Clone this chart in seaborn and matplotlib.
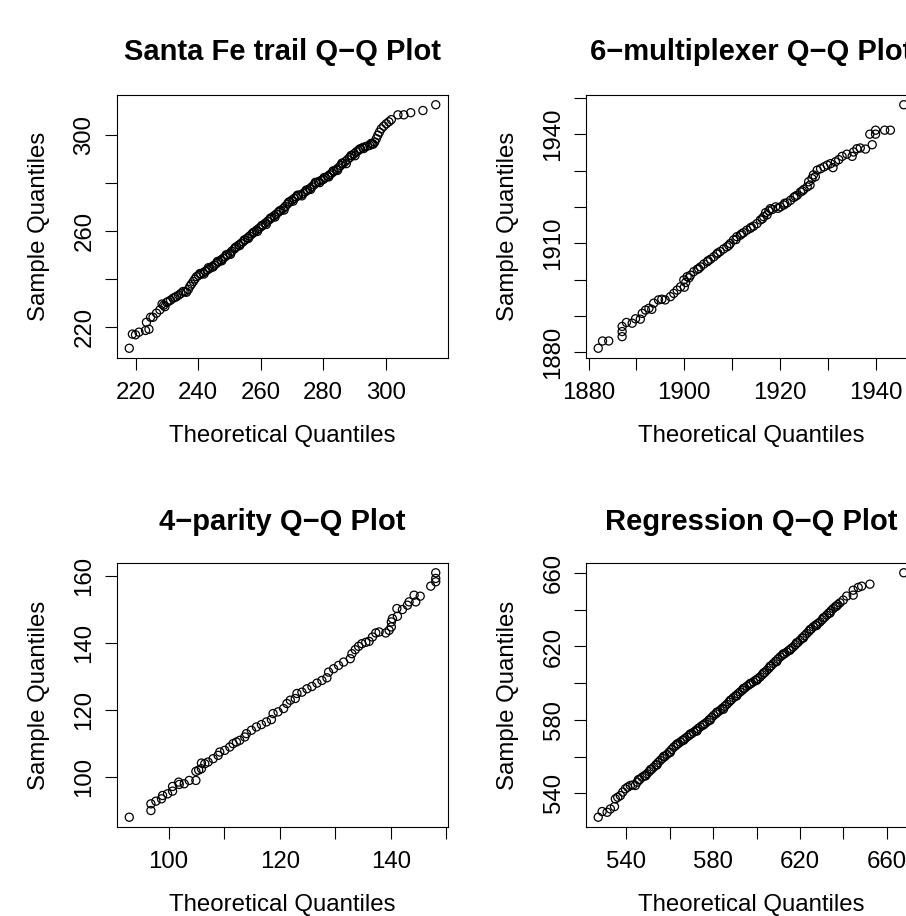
import pandas as pd
import matplotlib
matplotlib.use("Agg")
import matplotlib.pyplot as plt
import seaborn as sns

# Santa Fe trail (theoretical, sample)
santa_fe_theoretical = [
    218.0, 219.0, 220.0, 221.1, 223.2, 224.3, 223.5, 224.8, 225.6, 226.7, 227.8,
    228.5, 229.0, 229.4, 230.0, 230.4, 231.2, 232.0, 232.6, 233.1, 233.8, 234.5,
    235.2, 235.8, 236.3, 236.9, 237.4, 237.9, 238.5, 239.0, 239.5, 240.2, 240.9,
    241.6, 242.3, 243.0, 243.7, 244.4, 245.2, 245.9, 246.6, 247.3, 248.0, 248.7,
    249.4, 250.1, 250.8, 251.6, 252.3, 253.0, 253.7, 254.4, 255.1, 255.8, 256.5,
    257.2, 258.0, 258.7, 259.4, 260.1, 260.8, 261.5, 262.2, 262.9, 263.6, 264.3,
    265.0, 265.7, 266.5, 267.2, 267.9, 268.6, 269.3, 270.0, 270.7, 271.4, 272.1,
    272.9, 273.6, 274.3, 275.0, 275.7, 276.4, 277.1, 277.8, 278.5, 279.3, 280.0,
    280.7, 281.4, 282.1, 282.8, 283.5, 284.2, 284.9, 285.6, 286.3, 287.0, 287.8,
    288.5, 289.2, 289.9, 290.6, 291.3, 292.0, 292.7, 293.4, 294.1, 294.9, 295.7,
    296.5, 297.0, 297.5, 298.0, 298.6, 299.4, 300.2, 301.0, 301.8, 303.9, 305.8,
    308.0, 311.9, 316.0,
    240.6, 241.9, 243.3, 244.8, 246.2, 247.6, 249.0, 250.4, 251.9, 253.3, 254.8,
    256.1, 257.6, 259.0, 260.4, 261.8, 263.2, 264.6, 266.1, 267.5, 269.0, 270.4,
    271.8, 273.2, 274.6, 276.0, 277.5, 278.9, 280.3, 281.8, 283.2, 284.6, 286.0,
    287.4, 288.9, 290.2, 291.7, 293.0, 295.3, 296.0,
]
santa_fe_sample = [
    211.1, 217.0, 216.7, 217.8, 218.5, 219.0, 221.9, 224.0, 224.0, 225.7, 227.1,
    229.5, 229.0, 228.4, 230.2, 230.5, 231.1, 231.9, 232.3, 232.6, 233.2, 233.9,
    234.7, 234.6, 234.4, 235.6, 236.9, 237.8, 238.9, 239.9, 240.9, 241.4, 241.9,
    242.5, 243.1, 243.7, 244.3, 245.0, 245.7, 246.4, 247.1, 247.8, 248.5, 249.2,
    249.9, 250.6, 251.5, 252.4, 253.3, 254.0, 254.7, 255.4, 256.2, 257.0, 257.8,
    258.6, 259.4, 260.2, 260.9, 261.6, 262.3, 263.1, 263.9, 264.7, 265.4, 266.2,
    266.9, 267.7, 268.4, 269.2, 270.1, 271.1, 272.0, 272.7, 273.4, 274.1, 274.6,
    275.0, 275.5, 276.2, 276.8, 277.5, 278.3, 279.1, 279.9, 280.4, 280.9, 281.3,
    282.0, 282.6, 283.3, 284.0, 284.7, 285.4, 286.2, 287.1, 287.9, 288.7, 289.6,
    290.4, 291.2, 292.0, 292.8, 293.4, 294.0, 294.6, 294.9, 295.2, 295.5, 296.2,
    296.9, 298.3, 299.7, 301.0, 302.4, 303.5, 304.5, 305.3, 306.2, 308.2, 308.2,
    309.1, 310.0, 312.4,
    242.2, 242.0, 244.6, 244.9, 247.2, 247.5, 250.0, 250.2, 253.0, 253.8, 256.2,
    256.8, 259.2, 259.7, 262.2, 262.6, 265.3, 265.7, 268.3, 268.6, 271.9, 272.3,
    274.8, 274.5, 276.9, 277.2, 280.1, 280.0, 282.1, 282.4, 284.9, 285.1, 288.1,
    287.9, 291.3, 291.2, 294.0, 294.2, 296.3, 296.0,
]

# 6-multiplexer
mux_theoretical = [
    1882.0, 1882.9, 1884.2, 1887.0, 1887.0, 1887.0, 1887.9, 1889.1, 1889.8, 1890.8,
    1891.2, 1891.9, 1892.6, 1893.2, 1893.6, 1894.6, 1895.3, 1896.0, 1897.1, 1897.8,
    1898.5, 1899.2, 1899.9, 1900.0, 1900.3, 1900.6, 1901.0, 1901.3, 1902.0, 1902.7,
    1903.0, 1903.4, 1904.1, 1904.8, 1905.0, 1905.5, 1906.2, 1906.8, 1907.0, 1907.5,
    1908.2, 1908.9, 1909.3, 1909.6, 1910.3, 1910.8, 1911.0, 1911.7, 1912.0, 1912.4,
    1913.1, 1913.8, 1914.0, 1914.5, 1915.2, 1915.9, 1916.3, 1916.6, 1917.0, 1917.3,
    1917.7, 1918.0, 1918.4, 1919.1, 1919.6, 1920.1, 1920.8, 1921.0, 1921.5, 1922.2,
    1922.9, 1923.2, 1923.6, 1924.3, 1924.7, 1925.0, 1925.7, 1926.0, 1926.3, 1926.7,
    1927.0, 1927.4, 1927.8, 1928.5, 1929.2, 1929.9, 1930.6, 1931.1, 1931.6, 1932.3,
    1933.0, 1934.0, 1935.1, 1935.4, 1936.1, 1936.8, 1937.9, 1939.3, 1938.8, 1940.0,
    1940.0, 1941.9, 1943.1, 1945.9,
]
mux_sample = [
    1881.1, 1883.1, 1883.1, 1884.3, 1885.7, 1887.1, 1888.2, 1888.0, 1889.2, 1889.1,
    1890.7, 1891.6, 1892.1, 1891.8, 1893.5, 1894.4, 1894.6, 1894.4, 1895.3, 1896.2,
    1897.1, 1898.0, 1899.9, 1897.9, 1899.2, 1900.8, 1900.5, 1901.2, 1902.2, 1902.8,
    1903.0, 1903.5, 1904.3, 1904.9, 1905.2, 1905.6, 1906.3, 1907.0, 1907.3, 1907.7,
    1908.4, 1909.0, 1909.4, 1909.9, 1910.9, 1911.0, 1911.8, 1912.2, 1912.6, 1912.9,
    1913.6, 1914.1, 1914.4, 1914.7, 1915.4, 1916.4, 1916.7, 1917.3, 1918.4, 1917.8,
    1918.9, 1919.5, 1919.3, 1920.0, 1919.6, 1920.0, 1920.5, 1921.0, 1921.1, 1921.8,
    1922.6, 1922.9, 1923.2, 1924.1, 1924.4, 1924.8, 1925.5, 1926.9, 1926.0, 1927.8,
    1928.8, 1928.3, 1930.1, 1930.5, 1931.0, 1931.5, 1931.9, 1930.8, 1932.4, 1933.0,
    1933.9, 1934.5, 1933.9, 1935.1, 1936.0, 1936.2, 1935.9, 1937.1, 1940.0, 1941.1,
    1940.0, 1941.1, 1941.1, 1948.1,
]

# 4-parity
parity_theoretical = [
    92.9, 96.8, 96.8, 97.7, 98.7, 98.9, 99.8, 100.7, 100.7, 101.9, 101.8, 102.8,
    103.7, 104.9, 104.9, 105.4, 105.9, 105.9, 106.5, 107.1, 108.0, 108.9, 109.2,
    110.1, 111.0, 111.6, 112.2, 112.8, 113.7, 114.0, 114.9, 115.8, 116.7, 117.6,
    118.5, 118.8, 119.7, 120.7, 121.3, 121.9, 122.8, 123.1, 124.0, 124.9, 125.8,
    126.7, 127.6, 128.5, 128.8, 129.7, 130.6, 131.5, 132.7, 133.0, 133.6, 134.2,
    134.8, 135.5, 136.1, 136.7, 137.3, 137.9, 139.1, 139.7, 140.1, 140.1, 140.3,
    141.2, 141.1, 142.1, 143.0, 143.3, 144.2, 144.5, 145.3, 147.2, 148.1, 148.1,
    148.1,
]
parity_sample = [
    87.9, 89.9, 91.9, 92.7, 93.4, 94.4, 94.9, 95.7, 97.1, 97.7, 98.4, 97.9,
    98.9, 98.9, 101.6, 102.0, 102.4, 104.1, 103.9, 104.4, 105.4, 106.4, 107.4,
    107.9, 108.9, 109.9, 110.4, 110.9, 111.9, 112.9, 113.9, 114.9, 115.6, 116.4,
    117.1, 118.9, 119.4, 120.4, 121.9, 122.9, 123.4, 124.9, 125.3, 126.3, 127.0,
    128.0, 128.8, 129.6, 131.3, 132.3, 133.3, 134.3, 135.3, 136.8, 138.0, 139.0,
    139.8, 140.2, 140.5, 141.8, 143.0, 143.3, 143.0, 143.8, 144.8, 146.3, 147.3,
    148.0, 150.3, 150.0, 151.3, 152.3, 154.3, 152.3, 154.0, 157.0, 158.3, 159.3,
    161.0,
]

# Regression
regression_theoretical = [
    527.0, 528.8, 531.1, 532.6, 534.5, 534.9, 536.0, 537.2, 538.3, 539.5, 540.6,
    541.8, 543.0, 544.1, 545.0, 546.1, 547.2, 548.3, 549.5, 550.5, 551.6, 552.6,
    553.6, 554.6, 555.6, 556.6, 557.7, 558.7, 559.7, 560.8, 561.8, 562.8, 563.8,
    564.8, 565.8, 566.9, 567.9, 568.9, 570.0, 571.0, 572.0, 573.0, 574.0, 575.0,
    576.1, 577.1, 578.1, 579.2, 580.2, 581.2, 582.2, 583.2, 584.2, 585.3, 586.3,
    587.3, 588.3, 589.3, 590.3, 591.4, 592.4, 593.4, 594.5, 595.5, 596.5, 597.5,
    598.5, 599.5, 600.6, 601.6, 602.6, 603.7, 604.7, 605.7, 606.7, 607.7, 608.7,
    609.8, 610.8, 611.8, 612.9, 613.9, 614.9, 615.9, 616.9, 617.9, 619.0, 620.0,
    621.0, 622.1, 623.1, 624.1, 625.1, 626.1, 627.1, 628.2, 629.2, 630.2, 631.3,
    632.3, 633.3, 634.3, 635.3, 636.3, 637.4, 638.4, 639.9, 641.5, 644.5, 644.5,
    646.8, 648.4, 652.2, 667.8,
    545.5, 548.8, 551.1, 554.1, 557.2, 560.2, 563.3, 566.4, 569.4, 572.5, 575.5,
    578.6, 581.7, 584.7, 587.8, 590.8, 593.9, 597.0, 600.1, 603.2, 606.2, 609.3,
    612.3, 615.4, 618.4, 621.5, 624.6, 627.6, 630.7, 633.8, 636.8,
]
regression_sample = [
    526.9, 530.0, 529.6, 531.4, 532.7, 536.9, 537.8, 538.7, 540.6, 542.4, 543.3,
    544.2, 544.5, 544.2, 546.0, 547.4, 548.7, 549.6, 550.6, 551.8, 553.0, 554.2,
    555.5, 556.7, 557.9, 559.0, 560.0, 561.1, 562.4, 563.8, 565.1, 566.0, 567.0,
    567.9, 568.8, 569.7, 570.6, 571.5, 572.4, 573.3, 574.2, 575.2, 576.1, 577.0,
    577.9, 578.8, 580.0, 581.2, 582.4, 583.3, 584.3, 585.2, 586.3, 587.4, 588.5,
    589.7, 590.9, 592.1, 593.1, 594.2, 595.2, 596.2, 597.3, 598.3, 599.1, 599.9,
    600.7, 601.6, 602.5, 603.4, 604.6, 605.8, 607.0, 608.2, 609.5, 610.7, 611.9,
    613.1, 614.3, 615.2, 616.1, 617.0, 617.9, 618.9, 619.8, 621.0, 622.2, 623.4,
    624.7, 625.9, 627.1, 628.3, 629.5, 630.7, 631.6, 632.5, 633.4, 634.6, 635.9,
    637.1, 638.3, 639.5, 640.7, 641.7, 642.8, 643.8, 645.3, 647.5, 648.0, 650.7,
    652.2, 652.9, 654.0, 660.2,
    547.4, 549.4, 552.9, 555.4, 560.1, 562.2, 566.8, 568.9, 572.3, 573.9, 577.2,
    579.8, 584.2, 585.8, 590.6, 593.0, 597.1, 599.8, 601.6, 605.6, 609.2, 611.8,
    616.0, 618.0, 622.0, 624.6, 629.2, 631.4, 635.6, 638.2, 642.0,
]

titles = [
    "Santa Fe trail Q\u2212Q Plot",
    "6\u2212multiplexer Q\u2212Q Plot",
    "4\u2212parity Q\u2212Q Plot",
    "Regression Q\u2212Q Plot",
]
theoretical = [santa_fe_theoretical, mux_theoretical, parity_theoretical, regression_theoretical]
sample = [santa_fe_sample, mux_sample, parity_sample, regression_sample]

x_ticks = [
    [220, 240, 260, 280, 300],
    [1880, 1890, 1900, 1910, 1920, 1930, 1940, 1950],
    [100, 110, 120, 130, 140, 150],
    [540, 560, 580, 600, 620, 640, 660, 680],
]
x_tick_labels = [
    ["220", "240", "260", "280", "300"],
    ["1880", "", "1900", "", "1920", "", "1940", ""],
    ["100", "", "120", "", "140", ""],
    ["540", "", "580", "", "620", "", "660", ""],
]
y_ticks = [
    [220, 240, 260, 280, 300],
    [1880, 1890, 1900, 1910, 1920, 1930, 1940, 1950],
    [100, 120, 140, 160],
    [540, 560, 580, 600, 620, 640, 660],
]
y_tick_labels = [
    ["220", "", "260", "", "300"],
    ["1880", "", "", "1910", "", "", "1940", ""],
    ["100", "120", "140", "160"],
    ["540", "", "580", "", "620", "", "660"],
]

sns.set_style("ticks")
plt.rcParams["font.family"] = ["Liberation Sans", "DejaVu Sans"]
plt.rcParams["text.color"] = "black"
plt.rcParams["axes.labelcolor"] = "black"
plt.rcParams["xtick.color"] = "black"
plt.rcParams["ytick.color"] = "black"

W, H = 906, 916
fig = plt.figure(figsize=(W / 100, H / 100), dpi=100)

# panel boxes in pixels: left, top, right, bottom (right column runs off the page)
boxes = [(117, 95, 448, 358), (586, 95, 916, 358), (117, 563, 448, 827), (586, 563, 916, 827)]
title_pads = [25.2, 25.2, 23.8, 23.8]

for i in range(4):
    l, t, r, b = boxes[i]
    ax = fig.add_axes([l / W, 1 - b / H, (r - l) / W, (b - t) / H])

    df = pd.DataFrame({"Theoretical": theoretical[i], "Sample": sample[i]})
    sns.scatterplot(data=df, x="Theoretical", y="Sample", ax=ax, marker="o", s=34,
                    facecolor="none", edgecolor="black", linewidth=0.9)
    ax.margins(0.04)
    xlim = ax.get_xlim()
    ylim = ax.get_ylim()

    ax.set_xticks(x_ticks[i])
    ax.set_xticklabels(x_tick_labels[i])
    ax.set_yticks(y_ticks[i])
    ax.set_yticklabels(y_tick_labels[i], rotation=90, va="center")
    ax.set_xlim(xlim)
    ax.set_ylim(ylim)

    ax.tick_params(axis="both", direction="out", length=8.6, width=0.8,
                   labelsize=17.3, colors="black")
    ax.tick_params(axis="x", pad=9.0)
    ax.tick_params(axis="y", pad=6.8)

    for side in ["top", "right", "bottom", "left"]:
        ax.spines[side].set_visible(True)
        ax.spines[side].set_color("black")
        ax.spines[side].set_linewidth(0.8)

    ax.set_xlabel("Theoretical Quantiles", fontsize=17.3, labelpad=15)
    ax.set_ylabel("Sample Quantiles", fontsize=17.3, labelpad=17)
    ax.set_title(titles[i], fontsize=21, fontweight="bold", pad=title_pads[i])

# outer title, mostly above the visible page
fig.text(611.5 / W, 1 + 10.0 / H, "p", fontsize=36, fontweight="bold", va="baseline", ha="left")

fig.savefig("out.png", dpi=100)
